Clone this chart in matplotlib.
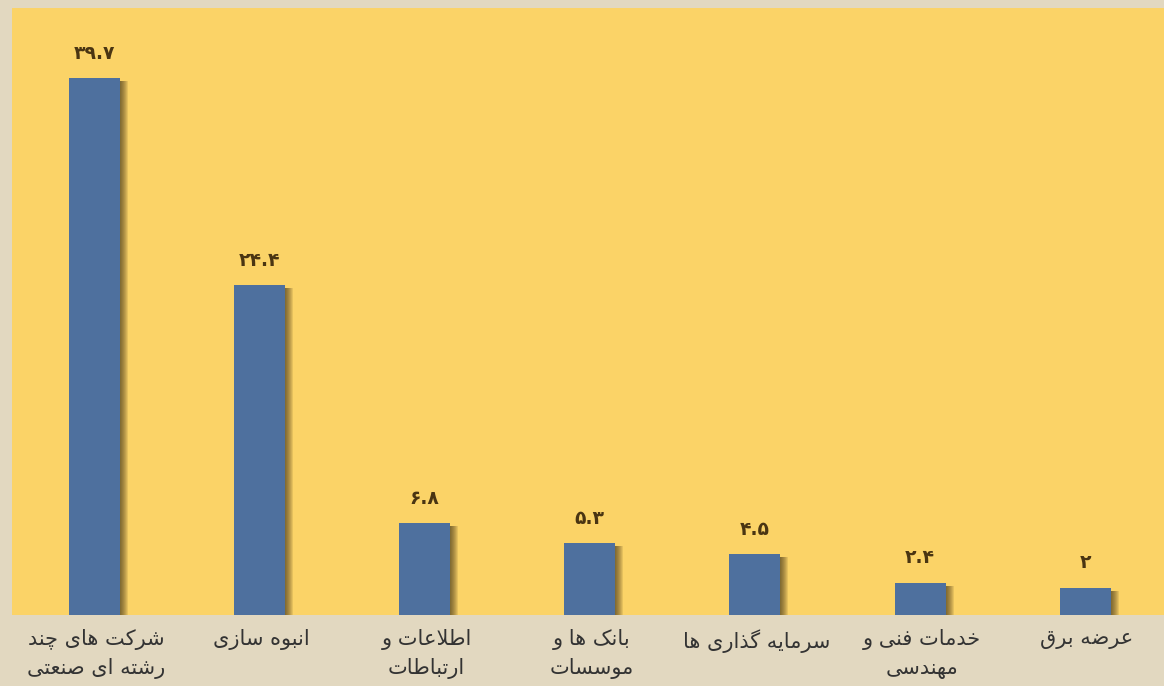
import matplotlib
matplotlib.use("Agg")
import matplotlib.pyplot as plt
from matplotlib.transforms import blended_transform_factory

# ---------------- data ----------------
categories = [
    "شرکت های چند\nرشته ای صنعتی",
    "انبوه سازی",
    "اطلاعات و\nارتباطات",
    "بانک ها و\nموسسات",
    "سرمایه گذاری ها",
    "خدمات فنی و\nمهندسی",
    "عرضه برق",
]
values = [39.7, 24.4, 6.8, 5.3, 4.5, 2.4, 2]
value_labels = ["۳۹.۷", "۲۴.۴", "۶.۸", "۵.۳", "۴.۵", "۲.۴", "۲"]

# ---------------- minimal Arabic/Persian shaping ----------------
# forms: (isolated, final, initial, medial); right-joining letters have only 2
FORMS = {
    "ا": (0xFE8D, 0xFE8E), "ب": (0xFE8F, 0xFE90, 0xFE91, 0xFE92),
    "ت": (0xFE95, 0xFE96, 0xFE97, 0xFE98), "ث": (0xFE99, 0xFE9A, 0xFE9B, 0xFE9C),
    "ج": (0xFE9D, 0xFE9E, 0xFE9F, 0xFEA0), "ح": (0xFEA1, 0xFEA2, 0xFEA3, 0xFEA4),
    "خ": (0xFEA5, 0xFEA6, 0xFEA7, 0xFEA8), "د": (0xFEA9, 0xFEAA),
    "ذ": (0xFEAB, 0xFEAC), "ر": (0xFEAD, 0xFEAE), "ز": (0xFEAF, 0xFEB0),
    "س": (0xFEB1, 0xFEB2, 0xFEB3, 0xFEB4), "ش": (0xFEB5, 0xFEB6, 0xFEB7, 0xFEB8),
    "ص": (0xFEB9, 0xFEBA, 0xFEBB, 0xFEBC), "ض": (0xFEBD, 0xFEBE, 0xFEBF, 0xFEC0),
    "ط": (0xFEC1, 0xFEC2, 0xFEC3, 0xFEC4), "ظ": (0xFEC5, 0xFEC6, 0xFEC7, 0xFEC8),
    "ع": (0xFEC9, 0xFECA, 0xFECB, 0xFECC), "غ": (0xFECD, 0xFECE, 0xFECF, 0xFED0),
    "ف": (0xFED1, 0xFED2, 0xFED3, 0xFED4), "ق": (0xFED5, 0xFED6, 0xFED7, 0xFED8),
    "ل": (0xFEDD, 0xFEDE, 0xFEDF, 0xFEE0), "م": (0xFEE1, 0xFEE2, 0xFEE3, 0xFEE4),
    "ن": (0xFEE5, 0xFEE6, 0xFEE7, 0xFEE8), "ه": (0xFEE9, 0xFEEA, 0xFEEB, 0xFEEC),
    "و": (0xFEED, 0xFEEE), "ی": (0xFBFC, 0xFBFD, 0xFBFE, 0xFBFF),
    "ک": (0xFB8E, 0xFB8F, 0xFB90, 0xFB91), "گ": (0xFB92, 0xFB93, 0xFB94, 0xFB95),
    "چ": (0xFB7A, 0xFB7B, 0xFB7C, 0xFB7D), "ژ": (0xFB8A, 0xFB8B),
}


def shape(line):
    chars = []
    i = 0
    while i < len(line):
        if line[i] == "ل" and i + 1 < len(line) and line[i + 1] == "ا":
            chars.append("LA")
            i += 2
        else:
            chars.append(line[i])
            i += 1

    def dual(c):
        return c in FORMS and len(FORMS[c]) == 4

    def letter(c):
        return c in FORMS or c == "LA"

    out = []
    for k, c in enumerate(chars):
        prev = chars[k - 1] if k > 0 else None
        nxt = chars[k + 1] if k + 1 < len(chars) else None
        pj = prev is not None and dual(prev)
        if c == "LA":
            out.append(chr(0xFEFC if pj else 0xFEFB))
            continue
        if c not in FORMS:
            out.append(c)
            continue
        f = FORMS[c]
        nj = dual(c) and nxt is not None and letter(nxt)
        if pj and nj:
            out.append(chr(f[3]))
        elif pj:
            out.append(chr(f[1]))
        elif nj:
            out.append(chr(f[2]))
        else:
            out.append(chr(f[0]))
    return "".join(reversed(out))


def shape_multiline(s):
    return "\n".join(shape(l) for l in s.split("\n"))


# ---------------- figure ----------------
W, H = 1164, 686
DPI = 100
BEIGE = "#E2D8C0"
YELLOW = "#FBD367"
BAR = "#4E709E"
TEXT_DARK = "#4A3512"

plt.rcParams["font.family"] = ["DejaVu Sans"]

fig = plt.figure(figsize=(W / DPI, H / DPI), dpi=DPI, facecolor=BEIGE)
left_px, right_px, top_px, base_px = 12, 1164, 8, 615
ax = fig.add_axes([left_px / W, (H - base_px) / H,
                   (right_px - left_px) / W, (base_px - top_px) / H])
ax.set_facecolor(YELLOW)

x = list(range(len(values)))
px_per_unit_x = 165.1
px_per_unit_y = 13.52
bar_w = 51 / px_per_unit_x

# soft shadow on the right side
for k in range(1, 9):
    off = k / px_per_unit_x
    ax.bar([xi + off for xi in x], [max(v - 3 / px_per_unit_y, 0) for v in values],
           width=bar_w, color="#3a2d15", alpha=0.11, zorder=1, linewidth=0)

ax.bar(x, values, width=bar_w, color=BAR, zorder=3, linewidth=0)

ax.set_xlim(-0.5, (right_px - 94.5) / px_per_unit_x)
ax.set_ylim(0, (base_px - top_px) / px_per_unit_y)

for xi, v, lab in zip(x, values, value_labels):
    ax.annotate(lab, (xi, v), xytext=(0, 18), textcoords="offset points",
                ha="center", va="center", fontsize=13.5, fontweight="bold",
                color=TEXT_DARK, zorder=4)

trans = blended_transform_factory(ax.transData, fig.transFigure)
label_x_offset = 2 / px_per_unit_x
for xi, cat in zip(x, categories):
    ax.text(xi + label_x_offset, (H - 629) / H, shape_multiline(cat), transform=trans,
            ha="center", va="top", multialignment="center", fontsize=15,
            color="#333333", linespacing=1.5)

for s in ax.spines.values():
    s.set_visible(False)
ax.set_xticks([])
ax.set_yticks([])

fig.savefig("out.png", dpi=DPI, facecolor=BEIGE)
